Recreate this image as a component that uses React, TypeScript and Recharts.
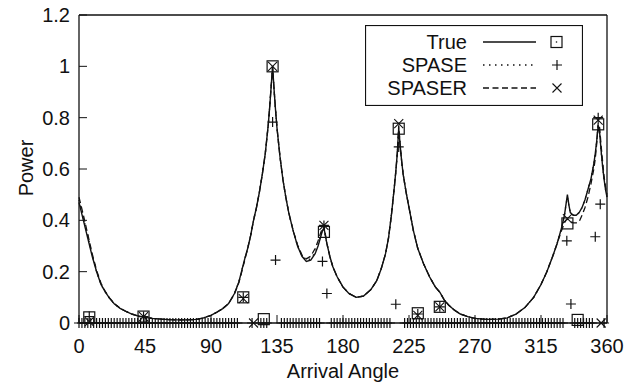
import { ComposedChart, Line, Scatter, XAxis, YAxis, Legend, Label } from "recharts";

const FONT = '"Liberation Sans", Arial, sans-serif';
const INK = "#111";

// spectrum curves
const curveAngles = [
  0, 3, 6, 9, 12, 15, 18, 21, 24, 28, 32, 36, 40, 45, 50, 56, 62, 68, 74, 80, 85, 90, 94, 98, 102, 106, 109, 111, 113, 115, 117, 119,
  121, 123, 125, 127, 129, 130, 131, 132, 133, 134, 135, 137, 139, 141, 143, 146, 149, 152, 155, 158, 161, 163, 165, 166, 167, 168, 169, 171, 173, 176, 180, 184, 189,
  194, 199, 203, 206, 209, 211, 213, 215, 216, 217, 218, 219, 220, 221, 223, 225, 228, 231, 235, 239, 243, 246, 249, 252, 256, 260, 265, 270,
  278, 286, 292, 298, 304, 310, 315, 319, 323, 326, 329, 331, 332, 333, 334, 335, 337, 339, 341, 343, 345, 347, 349, 351, 352, 353, 354, 355, 356, 357, 358, 359, 360,
];

const trueValues = [
  0.47, 0.4, 0.33, 0.26, 0.2, 0.15, 0.12, 0.095, 0.075, 0.057, 0.045, 0.035, 0.028, 0.022, 0.018, 0.015, 0.013, 0.012, 0.012, 0.014, 0.02, 0.03, 0.042, 0.056, 0.076, 0.115, 0.16, 0.205, 0.25, 0.29, 0.34, 0.4,
  0.45, 0.51, 0.58, 0.66, 0.77, 0.84, 0.92, 1.0, 0.91, 0.83, 0.76, 0.65, 0.56, 0.49, 0.43, 0.36, 0.3, 0.26, 0.24, 0.245, 0.27, 0.3, 0.34, 0.36, 0.37, 0.34, 0.31, 0.26, 0.22, 0.18, 0.14, 0.115, 0.1,
  0.105, 0.13, 0.165, 0.21, 0.27, 0.33, 0.42, 0.53, 0.59, 0.66, 0.76, 0.69, 0.63, 0.58, 0.51, 0.45, 0.36, 0.29, 0.23, 0.18, 0.14, 0.12, 0.09, 0.07, 0.05, 0.035, 0.025, 0.018,
  0.014, 0.015, 0.02, 0.035, 0.06, 0.1, 0.15, 0.2, 0.26, 0.31, 0.37, 0.42, 0.46, 0.5, 0.46, 0.43, 0.42, 0.42, 0.43, 0.45, 0.48, 0.52, 0.56, 0.62, 0.66, 0.71, 0.77, 0.74, 0.67, 0.61, 0.56, 0.52, 0.49,
];

const spaseValues = [
  0.48, 0.41, 0.34, 0.265, 0.2, 0.15, 0.12, 0.095, 0.075, 0.057, 0.045, 0.035, 0.028, 0.022, 0.018, 0.015, 0.013, 0.012, 0.012, 0.014, 0.02, 0.03, 0.042, 0.056, 0.076, 0.115, 0.16, 0.205, 0.25, 0.29, 0.34, 0.4,
  0.45, 0.51, 0.58, 0.66, 0.77, 0.84, 0.92, 0.99, 0.91, 0.83, 0.76, 0.65, 0.56, 0.49, 0.43, 0.36, 0.3, 0.26, 0.245, 0.25, 0.275, 0.305, 0.345, 0.365, 0.37, 0.34, 0.31, 0.26, 0.22, 0.18, 0.14, 0.115, 0.1,
  0.105, 0.13, 0.165, 0.21, 0.27, 0.33, 0.42, 0.53, 0.59, 0.66, 0.75, 0.69, 0.63, 0.58, 0.51, 0.45, 0.36, 0.29, 0.23, 0.18, 0.14, 0.12, 0.09, 0.07, 0.05, 0.035, 0.025, 0.018,
  0.014, 0.015, 0.02, 0.035, 0.06, 0.1, 0.15, 0.2, 0.26, 0.31, 0.37, 0.42, 0.46, 0.49, 0.46, 0.43, 0.42, 0.42, 0.43, 0.45, 0.48, 0.52, 0.56, 0.62, 0.66, 0.71, 0.77, 0.74, 0.67, 0.61, 0.56, 0.52, 0.49,
];

const spaserValues = [
  0.49, 0.42, 0.345, 0.27, 0.205, 0.155, 0.122, 0.097, 0.076, 0.058, 0.045, 0.035, 0.028, 0.022, 0.018, 0.015, 0.013, 0.012, 0.012, 0.014, 0.02, 0.03, 0.042, 0.056, 0.076, 0.113, 0.158, 0.2, 0.245, 0.29, 0.34, 0.4,
  0.45, 0.51, 0.58, 0.66, 0.77, 0.84, 0.92, 1.0, 0.91, 0.83, 0.76, 0.65, 0.56, 0.49, 0.43, 0.36, 0.305, 0.265, 0.25, 0.26, 0.29, 0.32, 0.355, 0.37, 0.38, 0.345, 0.31, 0.26, 0.22, 0.18, 0.14, 0.115, 0.1,
  0.105, 0.13, 0.165, 0.21, 0.27, 0.33, 0.42, 0.53, 0.59, 0.66, 0.77, 0.69, 0.63, 0.58, 0.51, 0.45, 0.36, 0.29, 0.23, 0.18, 0.14, 0.12, 0.09, 0.07, 0.05, 0.035, 0.025, 0.018,
  0.014, 0.015, 0.02, 0.035, 0.06, 0.1, 0.15, 0.2, 0.26, 0.31, 0.36, 0.39, 0.4, 0.405, 0.4, 0.395, 0.39, 0.39, 0.395, 0.42, 0.45, 0.49, 0.54, 0.6, 0.64, 0.7, 0.78, 0.76, 0.69, 0.63, 0.57, 0.53, 0.5,
];

// estimated source powers (markers)
const trueMarkAngles = [7, 44, 112, 126, 132, 167, 218, 231, 246, 333, 340, 354];
const trueMarkValues = [0.022, 0.025, 0.1, 0.015, 1.0, 0.355, 0.757, 0.038, 0.063, 0.388, 0.012, 0.774];

const spaseMarkAngles = [7, 44, 112, 132, 134, 166, 167, 169, 216, 218, 231, 246, 332.6, 335.4, 352, 354, 355.4];
const spaseMarkValues = [0.025, 0.025, 0.1, 0.783, 0.245, 0.24, 0.38, 0.115, 0.073, 0.686, 0.035, 0.063, 0.32, 0.074, 0.336, 0.8, 0.463];

// SPASE grid points estimated as zero
const spaseZeroAngles = [
  0, 2, 4, 6, 8, 10, 12, 14, 16, 18, 20, 22, 24, 26, 28, 30, 32, 34, 36, 38, 40, 42, 44, 46, 48, 50, 52, 54, 56, 58, 60, 62, 64, 66, 68, 70, 72, 74, 76, 78, 80, 82, 84, 86, 88, 90, 92, 94, 96, 98, 100, 102, 104, 106, 108,
  118, 124, 126, 128,
  138, 140, 142, 144, 146, 148, 150, 152, 154, 156, 158, 160, 162, 164,
  172, 174, 176, 178, 180, 182, 184, 186, 188, 190, 192, 194, 196, 198, 200, 202, 204, 206, 208, 210, 212,
  222, 224, 226, 228, 230, 232, 234, 236, 238, 240, 242, 244, 246, 248, 250, 252, 254, 256, 258, 260, 262, 264, 266, 268, 270, 272, 274, 276, 278, 280, 282, 284, 286, 288, 290, 292, 294, 296, 298, 300, 302, 304, 306, 308, 310, 312, 314, 316, 318, 320, 322, 324, 326, 328, 330,
  338, 340, 342, 344, 346, 348, 350, 358,
];

const spaserMarkAngles = [7, 44, 112, 119, 132, 167, 218, 231, 246, 333, 354, 356];
const spaserMarkValues = [0.005, 0.025, 0.095, 0, 1.0, 0.38, 0.777, 0.03, 0.063, 0.407, 0.79, 0];

const xTicks = [0, 45, 90, 135, 180, 225, 270, 315, 360];
const yTicks = [0, 0.2, 0.4, 0.6, 0.8, 1, 1.2];

const toPoints = (xs: number[], ys: number[]) => xs.map((x, i) => ({ x, y: ys[i] }));

const trueCurve = toPoints(curveAngles, trueValues);
const spaseCurve = toPoints(curveAngles, spaseValues);
const spaserCurve = toPoints(curveAngles, spaserValues);
const trueMarks = toPoints(trueMarkAngles, trueMarkValues);
const spaseMarks = [...toPoints(spaseMarkAngles, spaseMarkValues), ...spaseZeroAngles.map((x) => ({ x, y: 0 }))];
const spaserMarks = toPoints(spaserMarkAngles, spaserMarkValues);

const SquareMark = ({ cx, cy }: any) => (
  <rect x={cx - 5.5} y={cy - 5.5} width={11} height={11} fill="none" stroke={INK} strokeWidth={1.2} />
);
const PlusMark = ({ cx, cy }: any) => (
  <path d={`M${cx - 5},${cy}H${cx + 5}M${cx},${cy - 5}V${cy + 5}`} stroke={INK} strokeWidth={1.2} fill="none" />
);
const CrossMark = ({ cx, cy }: any) => (
  <path d={`M${cx - 4.5},${cy - 4.5}L${cx + 4.5},${cy + 4.5}M${cx - 4.5},${cy + 4.5}L${cx + 4.5},${cy - 4.5}`} stroke={INK} strokeWidth={1.1} fill="none" />
);

const BottomTick = ({ x, y, payload }: any) => (
  <g>
    <line x1={x} y1={y} x2={x} y2={y - 8} stroke={INK} strokeWidth={1} />
    <text x={x} y={y + 30} textAnchor="middle" fontSize={20} fontFamily={FONT} fill={INK}>{payload.value}</text>
  </g>
);
const TopTick = ({ x, y }: any) => <line x1={x} y1={y} x2={x} y2={y + 8} stroke={INK} strokeWidth={1} />;
const LeftTick = ({ x, y, payload }: any) => (
  <g>
    <line x1={x} y1={y} x2={x + 8} y2={y} stroke={INK} strokeWidth={1} />
    <text x={x - 9} y={y + 7} textAnchor="end" fontSize={20} fontFamily={FONT} fill={INK}>{payload.value}</text>
  </g>
);
const RightTick = ({ x, y }: any) => <line x1={x} y1={y} x2={x - 8} y2={y} stroke={INK} strokeWidth={1} />;

const legendRows = [
  { name: "True", dash: undefined, mark: "square" },
  { name: "SPASE", dash: "1.5 4.5", mark: "plus" },
  { name: "SPASER", dash: "6 3.5", mark: "cross" },
];

const LegendBox = () => (
  <svg width={218} height={81} style={{ display: "block" }}>
    <rect x={0.5} y={0.5} width={217} height={80} fill="#fff" stroke={INK} strokeWidth={1.2} />
    {legendRows.map((r, i) => {
      const cy = 17 + i * 23;
      return (
        <g key={r.name}>
          <text x={102} y={cy + 7} textAnchor="end" fontSize={20} fontFamily={FONT} fill={INK}>{r.name}</text>
          <line x1={118} y1={cy} x2={171} y2={cy} stroke={INK} strokeWidth={1.3} strokeDasharray={r.dash} />
          {r.mark === "square" && (
            <g>
              <rect x={186} y={cy - 5.5} width={11} height={11} fill="none" stroke={INK} strokeWidth={1.2} />
              <circle cx={191.5} cy={cy} r={0.8} fill={INK} />
            </g>
          )}
          {r.mark === "plus" && <PlusMark cx={192} cy={cy} />}
          {r.mark === "cross" && <CrossMark cx={192} cy={cy} />}
        </g>
      );
    })}
  </svg>
);

export default function App() {
  return (
    <div style={{ position: "absolute", left: 0, top: 0, background: "#fff" }}>
      <ComposedChart width={638} height={386} margin={{ top: 14, right: 30, bottom: 33, left: 29 }}>
        <XAxis
          dataKey="x"
          type="number"
          domain={[0, 360]}
          ticks={xTicks}
          tick={<BottomTick />}
          tickSize={0}
          tickMargin={0}
          tickLine={false}
          height={30}
          axisLine={{ stroke: INK, strokeWidth: 1.3 }}
        >
          <Label
            content={() => (
              <text x={343} y={378} textAnchor="middle" fontSize={20} fontFamily={FONT} fill={INK}>Arrival Angle</text>
            )}
          />
        </XAxis>
        <XAxis
          xAxisId="top"
          orientation="top"
          type="number"
          domain={[0, 360]}
          ticks={xTicks}
          tick={<TopTick />}
          tickSize={0}
          tickMargin={0}
          tickLine={false}
          height={1}
          axisLine={{ stroke: INK, strokeWidth: 1.3 }}
        />
        <YAxis
          dataKey="y"
          type="number"
          domain={[0, 1.2]}
          ticks={yTicks}
          tick={<LeftTick />}
          tickSize={0}
          tickMargin={0}
          tickLine={false}
          width={50}
          axisLine={{ stroke: INK, strokeWidth: 1.3 }}
        >
          <Label
            content={() => (
              <text x={33} y={168} transform="rotate(-90 33 168)" textAnchor="middle" fontSize={20} fontFamily={FONT} fill={INK}>Power</text>
            )}
          />
        </YAxis>
        <YAxis
          yAxisId="right"
          orientation="right"
          type="number"
          domain={[0, 1.2]}
          ticks={yTicks}
          tick={<RightTick />}
          tickSize={0}
          tickMargin={0}
          tickLine={false}
          width={1}
          axisLine={{ stroke: INK, strokeWidth: 1.3 }}
        />
        <Legend
          layout="vertical"
          align="center"
          verticalAlign="middle"
          wrapperStyle={{ left: 365, top: 25, width: 218, height: 81 }}
          content={() => <LegendBox />}
        />
        <Line data={trueCurve} dataKey="y" type="linear" stroke={INK} strokeWidth={1.4} dot={false} isAnimationActive={false} />
        <Line data={spaseCurve} dataKey="y" type="linear" stroke={INK} strokeWidth={1.3} strokeDasharray="1.5 4.5" dot={false} isAnimationActive={false} />
        <Line data={spaserCurve} dataKey="y" type="linear" stroke={INK} strokeWidth={1.3} strokeDasharray="6 3.5" dot={false} isAnimationActive={false} />
        <Scatter data={trueMarks} dataKey="y" shape={<SquareMark />} isAnimationActive={false} />
        <Scatter data={spaseMarks} dataKey="y" shape={<PlusMark />} isAnimationActive={false} />
        <Scatter data={spaserMarks} dataKey="y" shape={<CrossMark />} isAnimationActive={false} />
      </ComposedChart>
    </div>
  );
}
